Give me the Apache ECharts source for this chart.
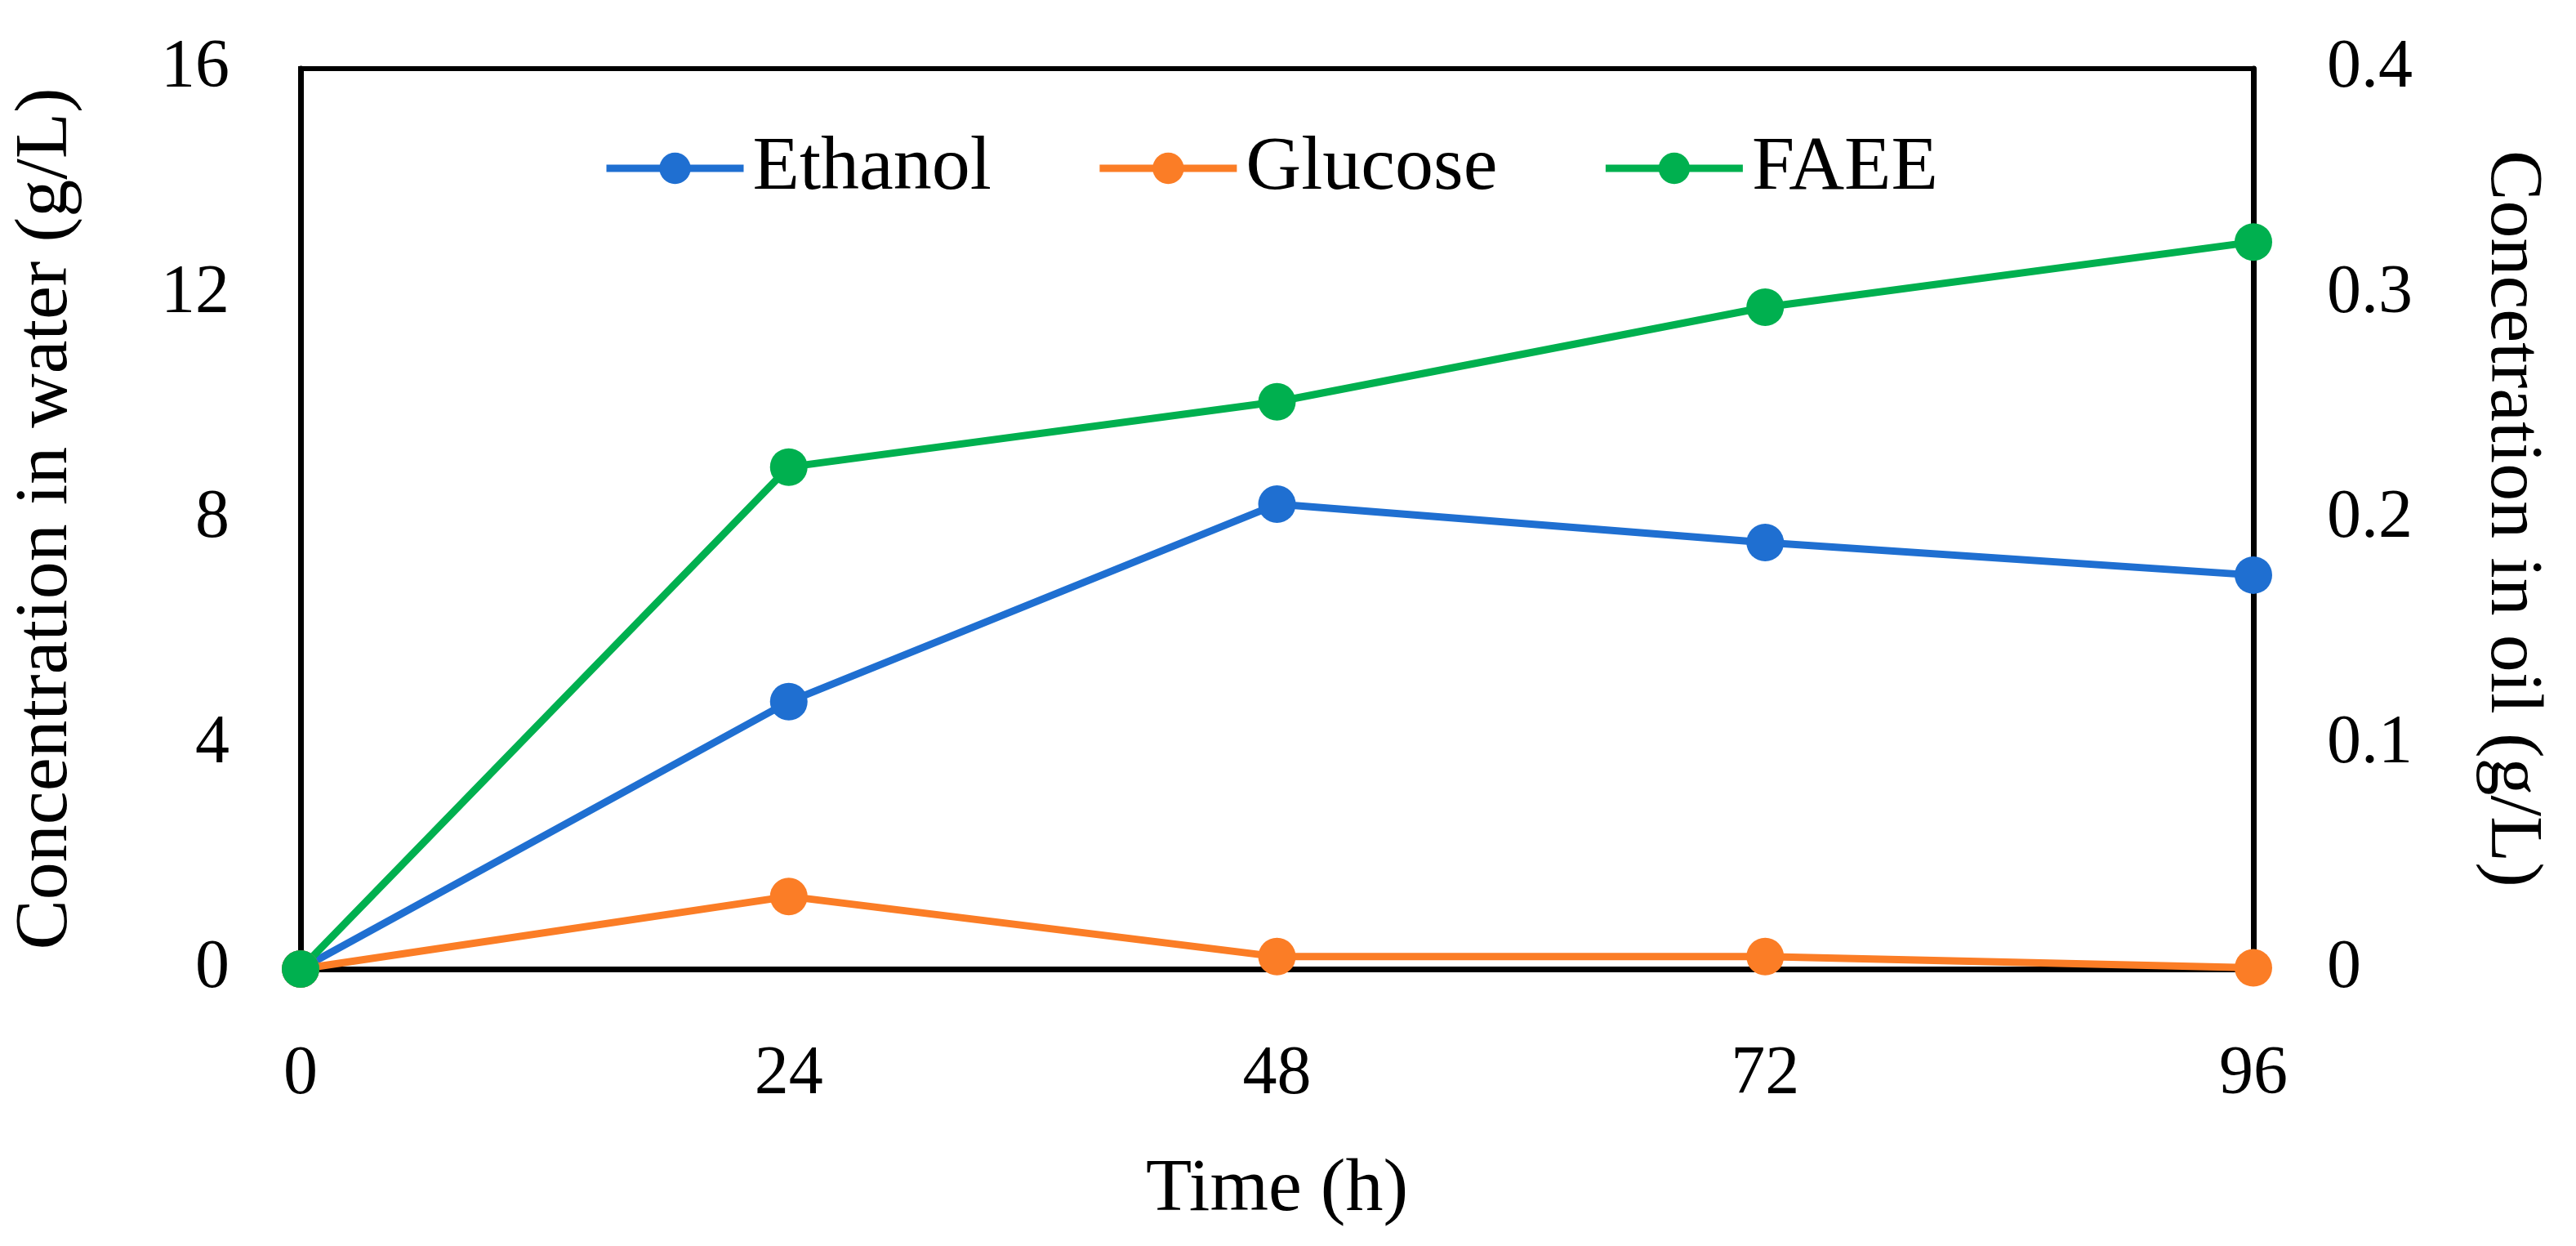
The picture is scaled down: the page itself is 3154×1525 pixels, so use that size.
<!DOCTYPE html>
<html>
<head>
<meta charset="utf-8">
<script src="https://cdn.jsdelivr.net/npm/echarts@6/dist/echarts.min.js"></script>
<style>html,body{margin:0;padding:0;background:#fff}#c{width:3154px;height:1525px}</style>
</head>
<body>
<div id="c"></div>
<script>
var times = [0, 24, 48, 72, 96];
var ethanol = [0, 4.75, 8.26, 7.58, 7.0];
var glucose = [0, 1.29, 0.22, 0.22, 0.02];
var faee = [0, 0.223, 0.252, 0.294, 0.323];
var leftTicks = [0, 4, 8, 12, 16];
var rightTicks = [0, 0.1, 0.2, 0.3, 0.4];

function pairs(ys){ return times.map(function(t,i){ return [t, ys[i]]; }); }
var FONT = 'Liberation Serif';
var chart = echarts.init(document.getElementById('c'));
var lineSeries = function(name, data, color, yi, w){
  return {
    name: name, type: 'line', yAxisIndex: yi, data: pairs(data),
    symbol: 'circle', symbolSize: 46, clip: false, z: 5,
    lineStyle: {color: color, width: w},
    itemStyle: {color: color}
  };
};
chart.setOption({
  animation: false,
  backgroundColor: '#fff',
  textStyle: {fontFamily: FONT},
  grid: {left: 368, right: 395, top: 84, bottom: 339, show: true, borderColor: '#000', borderWidth: 6},
  legend: {
    top: 154, left: 733, itemWidth: 168, itemHeight: 48, itemGap: 128,
    lineStyle: {width: 9},
    textStyle: {fontFamily: FONT, fontSize: 94, color: '#000', padding: [0,0,0,6]},
    data: ['Ethanol', 'Glucose', 'FAEE']
  },
  xAxis: {
    type: 'value', min: 0, max: 96, interval: 24,
    name: 'Time (h)', nameLocation: 'middle', nameGap: 225,
    nameTextStyle: {fontFamily: FONT, fontSize: 92, color: '#000'},
    axisLine: {show: true, lineStyle: {color: '#000', width: 7}},
    axisTick: {show: false}, splitLine: {show: false},
    axisLabel: {fontFamily: FONT, fontSize: 84, color: '#000', margin: 88}
  },
  yAxis: [{
    type: 'value', min: 0, max: 16, interval: 4,
    name: 'Concentration in water (g/L)', nameLocation: 'middle', nameGap: 265, nameRotate: 90,
    nameTextStyle: {fontFamily: FONT, fontSize: 92, color: '#000'},
    axisLine: {show: true, lineStyle: {color: '#000', width: 7}},
    axisTick: {show: false}, splitLine: {show: false},
    axisLabel: {fontFamily: FONT, fontSize: 84, color: '#000', margin: 87,
      formatter: function(v){ return leftTicks.indexOf(v) >= 0 ? String(v) : ''; }}
  }, {
    type: 'value', min: 0, max: 0.4, interval: 0.1, position: 'right',
    name: 'Concetration in oil (g/L)', nameLocation: 'middle', nameGap: 270, nameRotate: -90,
    nameTextStyle: {fontFamily: FONT, fontSize: 92, color: '#000'},
    axisLine: {show: true, lineStyle: {color: '#000', width: 7}},
    axisTick: {show: false}, splitLine: {show: false},
    axisLabel: {fontFamily: FONT, fontSize: 84, color: '#000', margin: 90,
      formatter: function(v){ var r = Math.round(v*10)/10; return rightTicks.indexOf(r) >= 0 ? String(r) : ''; }}
  }],
  series: [
    lineSeries('Ethanol', ethanol, '#1f6fd1', 0, 9),
    lineSeries('Glucose', glucose, '#fb7d26', 0, 9),
    lineSeries('FAEE', faee, '#00b04f', 1, 9)
  ]
});
</script>
</body>
</html>
